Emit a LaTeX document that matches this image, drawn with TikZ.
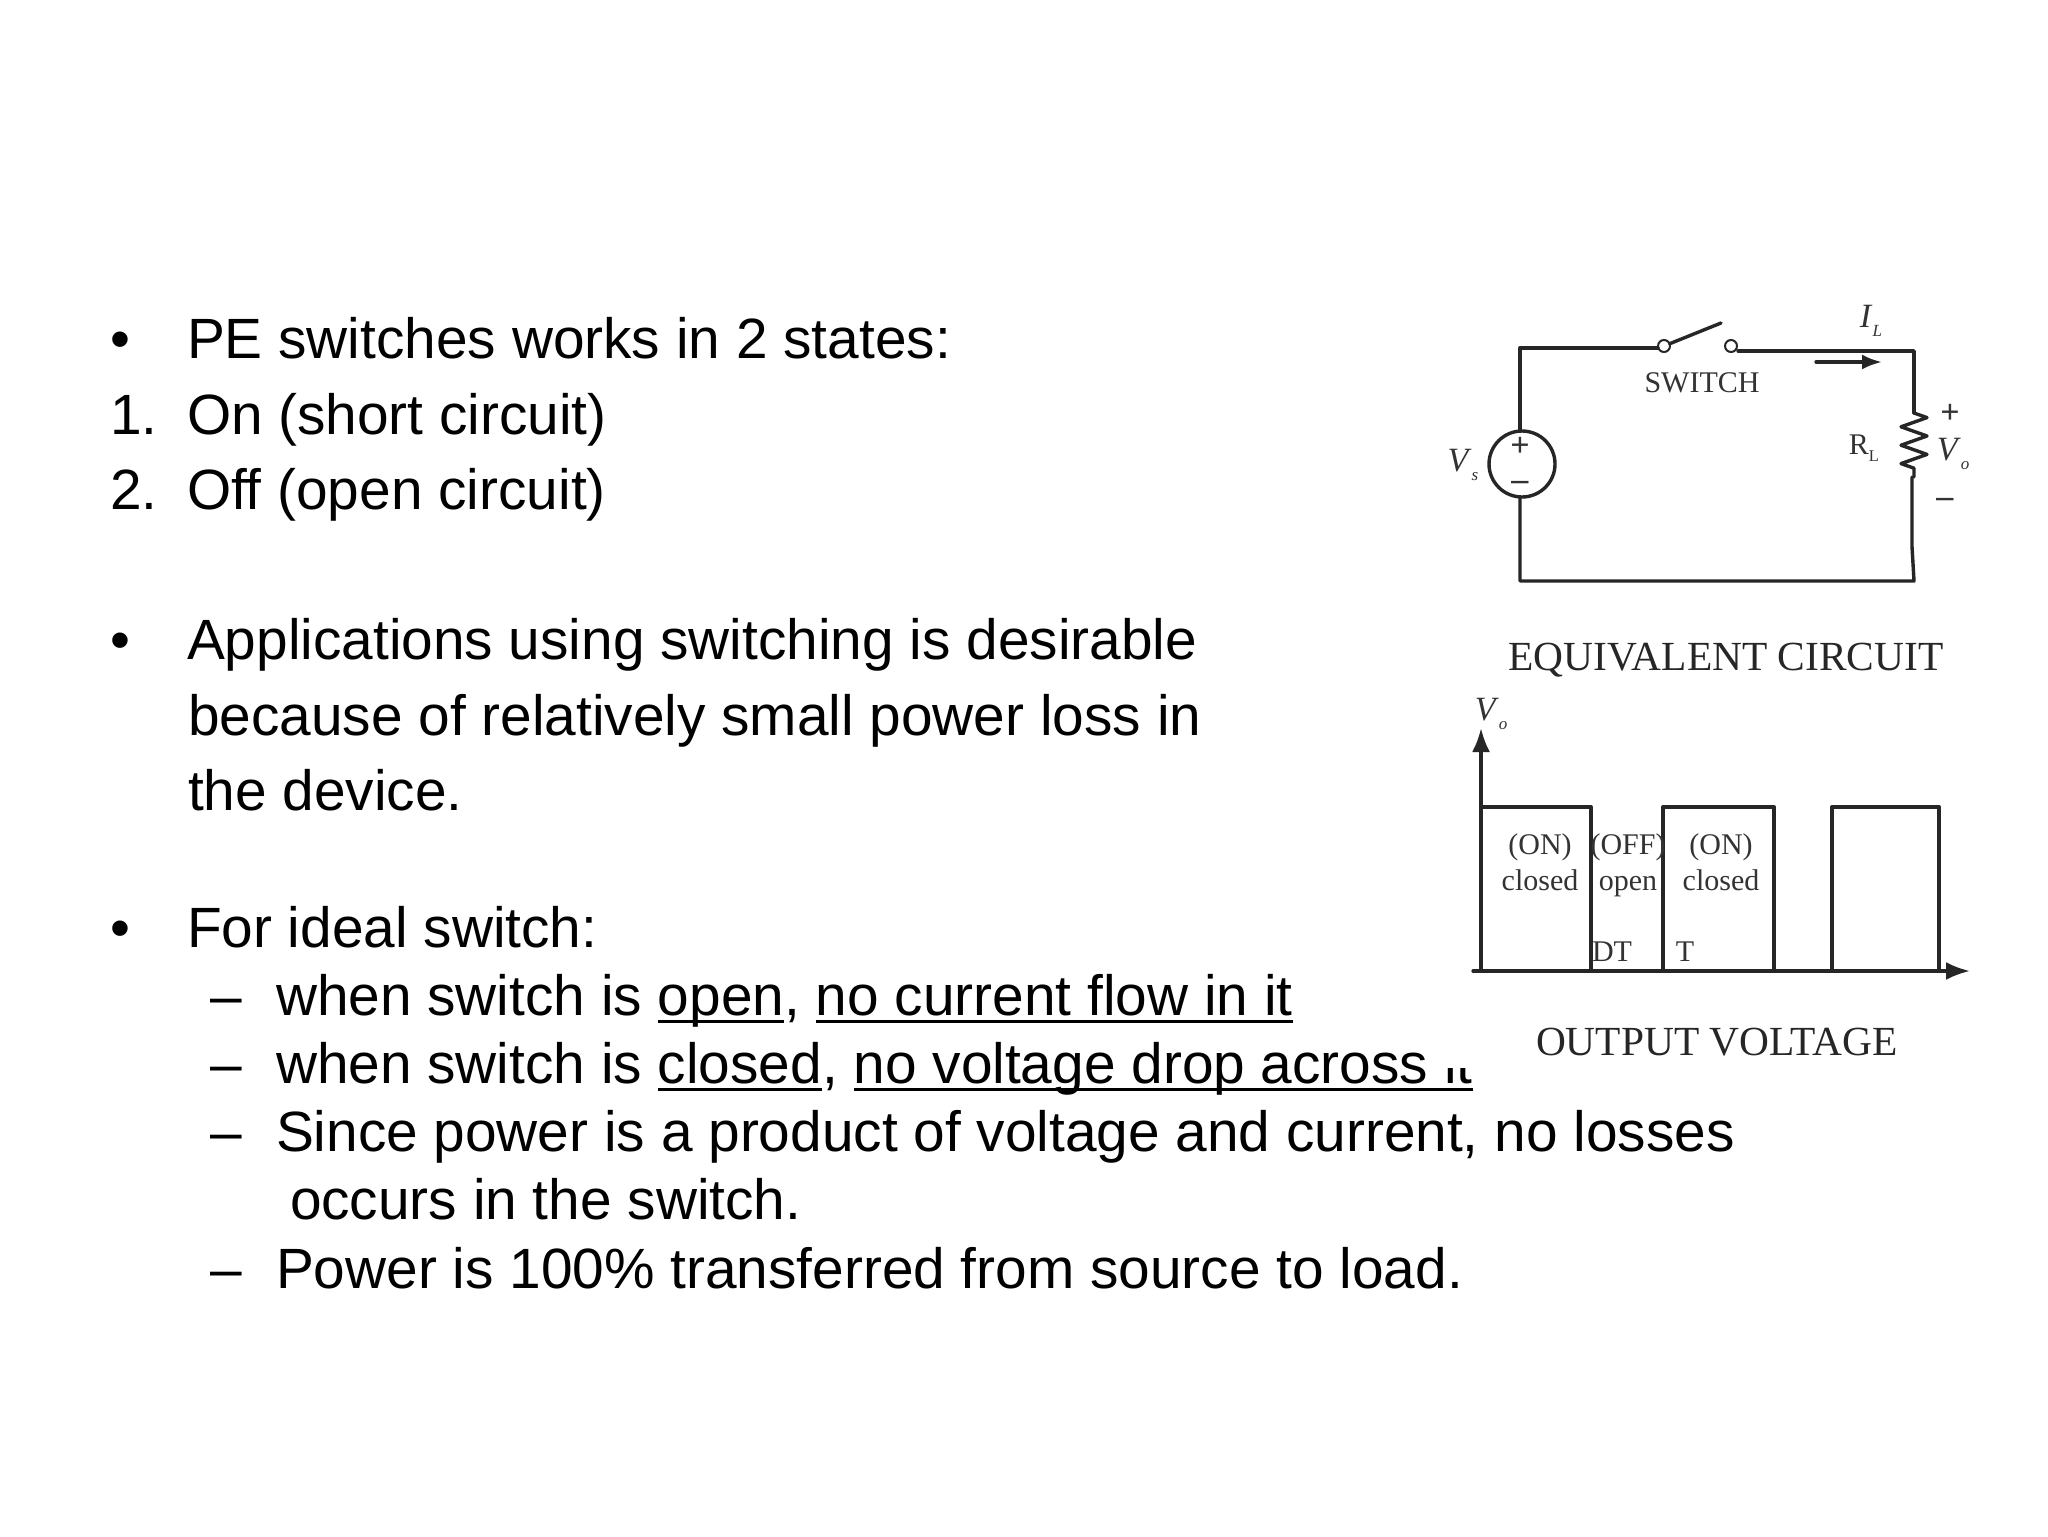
\documentclass[tikz,border=0pt]{standalone}
\usepackage{fontspec}
\setmainfont{Liberation Sans}
\newfontfamily\figfont{Liberation Serif}
\usetikzlibrary{arrows.meta,decorations.pathmorphing}

\newcommand{\ubar}[1]{\leavevmode\setbox0\hbox{#1}\rlap{\rule[-4pt]{\wd0}{1.6pt}}\box0}
\newcommand{\qty}[2]{\textit{#1}\raisebox{-.25em}{\scalebox{.5}{\textit{#2}}}}

\tikzset{
    mainline/.style={anchor=base west,inner sep=0pt,outer sep=0pt,text=black,font=\fontsize{28.4}{34}\selectfont},
    figlabel/.style={inner sep=0pt,outer sep=0pt,text=black!80,text height=9pt,text depth=3pt,font=\figfont\fontsize{15}{17}\selectfont},
    fignum/.style={inner sep=0pt,outer sep=0pt,text=black!80,font=\figfont\fontsize{17}{19}\selectfont},
    figtitle/.style={inner sep=0pt,outer sep=0pt,text=black!85,font=\figfont\fontsize{20.7}{23}\selectfont},
    wire/.style={draw=black!85,line width=1.7pt,line cap=round,line join=round},
    terminal/.style={circle,draw=black!85,line width=1pt,minimum size=6pt,inner sep=0pt,outer sep=0pt},
}

\begin{document}
\begin{tikzpicture}[x=0.5pt,y=-0.5pt]
    \useasboundingbox (0,0) rectangle (2048,1536);

    % left column
    \node[mainline] (b1) at (110,358) {•};
    \node[mainline] (t1) at (187,358) {PE switches works in 2 states:};
    \node[mainline] (n1) at (110,434) {1.};
    \node[mainline] (t2) at (187,434) {On (short circuit)};
    \node[mainline] (n2) at (110,509) {2.};
    \node[mainline] (t3) at (187,509) {Off (open circuit)};
    \node[mainline] (b2) at (110,659) {•};
    \node[mainline] (t4) at (187,659) {Applications using switching is desirable};
    \node[mainline] (t5) at (188,735) {because of relatively small power loss in};
    \node[mainline] (t6) at (188,810) {the device.};
    \node[mainline] (b3) at (110,947) {•};
    \node[mainline] (t7) at (187,947) {For ideal switch:};

    \node[mainline] (d1) at (210,1015) {–};
    \node[mainline] (s1) at (276,1015) {when switch is \ubar{open}, \ubar{no current flow in it}};
    \node[mainline] (d2) at (210,1083) {–};
    \node[mainline] (s2) at (276,1083) {when switch is \ubar{closed}, \ubar{no voltage drop across it}};
    \node[mainline] (d3) at (210,1151) {–};
    \node[mainline] (s3) at (276,1151) {Since power is a product of voltage and current, no losses};
    \node[mainline] (s4) at (290,1219) {occurs in the switch.};
    \node[mainline] (d4) at (210,1288) {–};
    \node[mainline] (s5) at (276,1288) {Power is 100\% transferred from source to load.};

    % the figure sits on a white patch over the text
    \fill[white] (1432,280) rectangle (1990,1068);

    % equivalent circuit
    \node[circle,draw=black!85,line width=1.7pt,minimum size=33pt,inner sep=0pt,outer sep=0pt] (vsrc) at (1522,464) {};
    \node[terminal] (swa) at (1664,346) {};
    \node[terminal] (swb) at (1731,346) {};
    \coordinate (tl) at (1520,348);
    \coordinate (bl) at (1520,581);
    \coordinate (br) at (1914,581);
    \coordinate (tr) at (1914,351);
    \coordinate (swr) at (1738,351);
    \coordinate (blade) at (1721,323);
    \coordinate (rtop) at (1914,413);
    \coordinate (rbot) at (1914,477);
    \coordinate (rlow) at (1912,477);
    \coordinate (rend) at (1912,547);
    \draw[wire] (vsrc.north -| tl) -- (tl) -- (tl -| swa.west);
    \draw[wire] (vsrc.south -| bl) -- (bl) -- (br) -- (rend) -- (rlow);
    \draw[wire] (swa) -- (blade);
    \draw[wire] (swr) -- (tr) -- (rtop);
    \draw[wire,decorate,decoration={zigzag,amplitude=6.5pt,segment length=9.2pt}] (rtop) -- (rbot);
    \coordinate (ia) at (1816,362);
    \coordinate (ib) at (1882,362);
    \draw[wire,-{Latex[length=10pt,width=7.5pt]}] (ia) -- (ib);

    \node[fignum] (plus) at (1520,447) {\textbf{+}};
    \node[fignum] (minus) at (1520,486) {\textbf{–}};
    \node[fignum] (vslab) at (1463,465) {\qty{V}{s}};
    \node[fignum] (illab) at (1871,321) {\qty{I}{L}};
    \node[figlabel] (swlab) at (1702,386) {SWITCH};
    \node[figlabel] (rllab) at (1864,448) {R\raisebox{-.25em}{\scalebox{.55}{L}}};
    \node[fignum] (vplus) at (1950,414) {\textbf{+}};
    \node[fignum] (volab) at (1953,454) {\qty{V}{o}};
    \node[fignum] (vminus) at (1945,503) {\textbf{–}};
    \node[figtitle] (eqtitle) at (1726,660) {EQUIVALENT CIRCUIT};

    % output voltage
    \coordinate (origin) at (1481,971);
    \coordinate (xstart) at (1473,971);
    \coordinate (xend) at (1970,971);
    \coordinate (yend) at (1481,728);
    \draw[wire,-{Latex[length=12pt,width=9pt]}] (xstart) -- (xend);
    \draw[wire,-{Latex[length=12pt,width=9pt]}] (origin) -- (yend);
    \foreach \xa/\xb in {1481/1591,1663/1774,1832/1939}
        \draw[wire] (\xa,971) -- (\xa,807) -- (\xb,807) -- (\xb,971);

    \node[figlabel] (on1) at (1540,848) {(ON)};
    \node[figlabel] (cl1) at (1540,884) {closed};
    \node[figlabel] (off1) at (1628,848) {(OFF)};
    \node[figlabel] (op1) at (1628,884) {open};
    \node[figlabel] (on2) at (1721,848) {(ON)};
    \node[figlabel] (cl2) at (1721,884) {closed};
    \node[figlabel] (dtlab) at (1612,955) {DT};
    \node[figlabel] (tlab) at (1685,955) {T};
    \node[fignum] (volab2) at (1491,714) {\qty{V}{o}};
    \node[figtitle] (outtitle) at (1717,1042) {OUTPUT VOLTAGE};
\end{tikzpicture}
\end{document}
